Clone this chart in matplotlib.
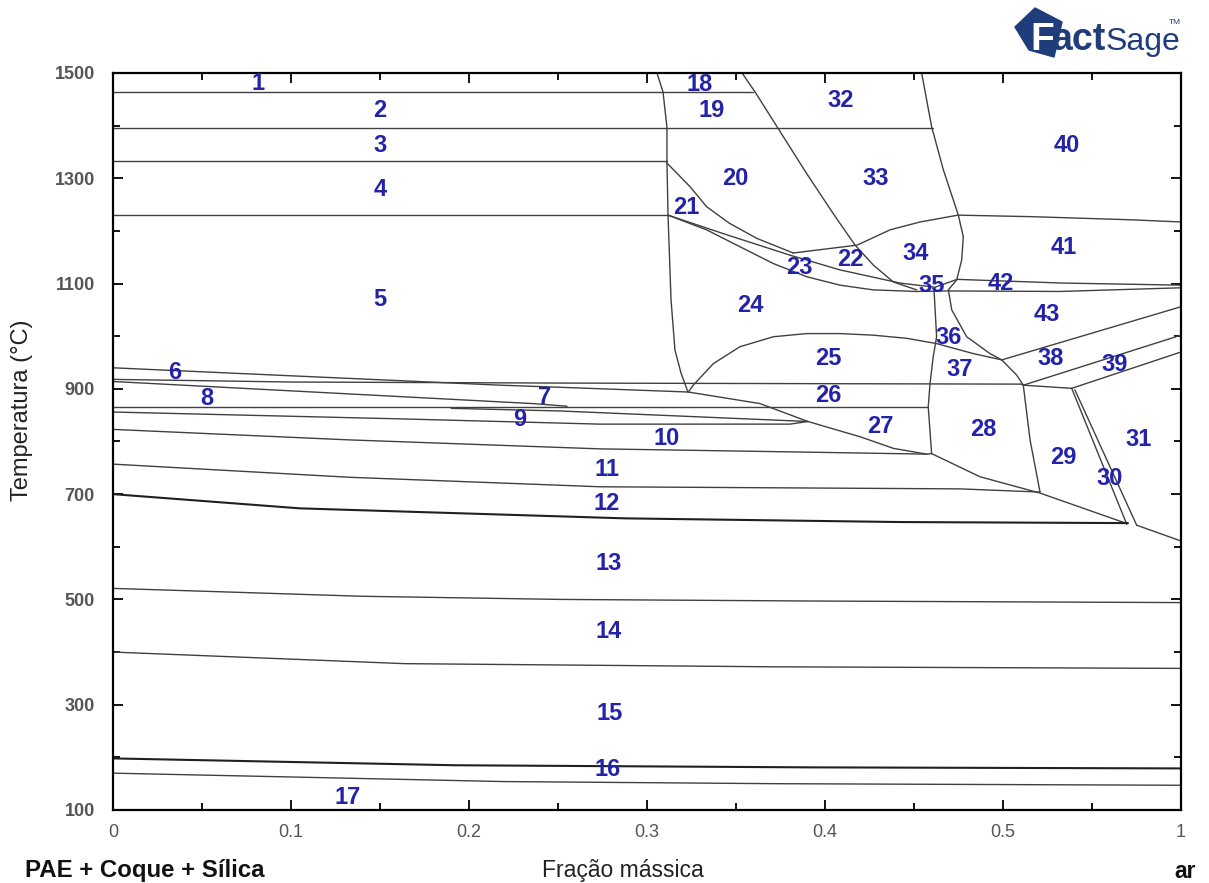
import matplotlib
matplotlib.use("Agg")
import matplotlib.pyplot as plt
from matplotlib import font_manager as fm
from matplotlib.patches import Polygon

# ---------------- phase boundaries (mass fraction, temperature degC) ----------------
iso_1464_x = [0.0, 0.3596]
iso_1464_y = [1464, 1464]
iso_1396_x = [0.0, 0.4607]
iso_1396_y = [1396, 1396]
iso_1333_x = [0.0, 0.3112]
iso_1333_y = [1333, 1333]
iso_1231_x = [0.0, 0.3118]
iso_1231_y = [1231, 1231]

left_wall_x = [0.3056, 0.3090, 0.3112, 0.3112, 0.3118, 0.3135, 0.3157, 0.3191, 0.3230]
left_wall_y = [1500, 1464, 1397, 1333, 1231, 1069, 974, 930, 894]

b20_21_x = [0.3112, 0.3242, 0.3335, 0.3461, 0.3616, 0.3822]
b20_21_y = [1329, 1284, 1246, 1215, 1186, 1158]

b21_23_x = [0.3118, 0.3427, 0.3803]
b21_23_y = [1230, 1195, 1154]

b24_top_x = [0.3118, 0.3335, 0.3522, 0.3710, 0.3897, 0.4084, 0.4271, 0.4515, 0.4691, 0.5320, 0.6000]
b24_top_y = [1230, 1202, 1170, 1138, 1113, 1097, 1088, 1085, 1086, 1085, 1092]

b22_23_x = [0.3803, 0.4084, 0.4421, 0.4618, 0.4742, 0.5330, 0.6000]
b22_23_y = [1154, 1126, 1101, 1093, 1108, 1101, 1097]

b34_41_x = [0.3820, 0.4180, 0.4365, 0.4534, 0.4747, 0.5169, 0.5730, 0.6000]
b34_41_y = [1158, 1173, 1202, 1217, 1230, 1227, 1221, 1217]

diag_x = [0.3534, 0.3607, 0.3736, 0.3897, 0.4046, 0.4169, 0.4272, 0.4384, 0.4515]
diag_y = [1500, 1464, 1395, 1309, 1233, 1173, 1135, 1103, 1088]

right_wall_x = [0.4543, 0.4599, 0.4665, 0.4749, 0.4777, 0.4768, 0.4740, 0.4693, 0.4712,
                0.4796, 0.4927, 0.4993, 0.5077, 0.5114]
right_wall_y = [1500, 1398, 1316, 1230, 1189, 1145, 1107, 1088, 1050,
                999, 967, 955, 926, 907]

mid_wall_x = [0.4612, 0.4627, 0.4608, 0.4590, 0.4580, 0.4599]
mid_wall_y = [1091, 999, 961, 910, 866, 777]

b25_top_x = [0.3232, 0.3260, 0.3373, 0.3522, 0.3710, 0.3897, 0.4084, 0.4271, 0.4459, 0.4627, 0.4833, 0.4993]
b25_top_y = [894, 907, 948, 980, 999, 1005, 1005, 1002, 996, 986, 967, 955]

b38_43_x = [0.4993, 0.6000]
b38_43_y = [955, 1056]
b38_39_x = [0.5114, 0.6000]
b38_39_y = [907, 1002]
b39_31_x = [0.5386, 0.6000]
b39_31_y = [901, 970]

iso_911_x = [0.0, 0.10, 0.25, 0.5101, 0.5114, 0.5386]
iso_911_y = [918, 913, 911, 909, 907, 901]

b6_x = [0.0, 0.2174, 0.2511, 0.3232]
b6_y = [940, 907, 903, 894]

b7_8_x = [0.0, 0.2360, 0.2551]
b7_8_y = [914, 872, 867]

iso_865_x = [0.0, 0.4580]
iso_865_y = [865, 865]

b9_top_x = [0.1900, 0.2511, 0.3904]
b9_top_y = [863, 858, 838]
b9_10_x = [0.0, 0.1612, 0.2736, 0.3803, 0.3904]
b9_10_y = [856, 843, 833, 833, 838]

b26_27_x = [0.3232, 0.3635, 0.3904, 0.4197, 0.4384, 0.4571, 0.4599]
b26_27_y = [894, 872, 838, 809, 787, 776, 777]

b10_11_x = [0.0, 0.1331, 0.2736, 0.3860, 0.4573]
b10_11_y = [823, 803, 786, 780, 776]

b28_low_x = [0.4599, 0.4871, 0.5208, 0.5697]
b28_low_y = [777, 733, 702, 644]

b28_29_x = [0.5114, 0.5152, 0.5208]
b28_29_y = [907, 803, 704]

b11_12_x = [0.0, 0.1331, 0.2736, 0.4758, 0.5208]
b11_12_y = [757, 732, 714, 710, 704]

b12_13_x = [0.0, 0.1050, 0.2876, 0.4421, 0.5702]
b12_13_y = [700, 673, 654, 647, 645]

b30_left_x = [0.5386, 0.5695]
b30_left_y = [901, 643]
b30_right_x = [0.5404, 0.5751]
b30_right_y = [898, 641]
b31_low_x = [0.5751, 0.6000]
b31_low_y = [641, 611]

b13_14_x = [0.0, 0.1399, 0.2517, 0.3910, 0.6000]
b13_14_y = [521, 506, 500, 497, 494]
b14_15_x = [0.0, 0.1640, 0.3713, 0.6000]
b14_15_y = [400, 378, 372, 369]
b15_16_x = [0.0, 0.1921, 0.3910, 0.6000]
b15_16_y = [198, 185, 181, 179]
b16_17_x = [0.0, 0.2197, 0.3713, 0.6000]
b16_17_y = [170, 154, 150, 147]

# ---------------- region numbers ----------------
region_ids = ["1", "2", "3", "4", "5", "6", "7", "8", "9", "10",
              "11", "12", "13", "14", "15", "16", "17", "18", "19", "20",
              "21", "22", "23", "24", "25", "26", "27", "28", "29", "30",
              "31", "32", "33", "34", "35", "36", "37", "38", "39", "40",
              "41", "42", "43"]
region_x = [0.0815, 0.150, 0.150, 0.150, 0.150, 0.0348, 0.2427, 0.0528, 0.2287, 0.3112,
            0.2775, 0.2775, 0.2787, 0.2787, 0.2792, 0.2781, 0.1320, 0.3298, 0.3365, 0.3494,
            0.3219, 0.4140, 0.3854, 0.3579, 0.4017, 0.4017, 0.4309, 0.4888, 0.5337, 0.5601,
            0.5764, 0.4090, 0.4287, 0.4511, 0.4601, 0.4697, 0.4758, 0.5270, 0.5629, 0.5360,
            0.5343, 0.4989, 0.5247]
region_y = [1481, 1428, 1363, 1278, 1069, 932, 884, 882, 841, 806,
            746, 683, 569, 440, 284, 177, 124, 1479, 1428, 1299,
            1245, 1145, 1130, 1059, 958, 888, 829, 822, 770, 729,
            803, 1447, 1299, 1158, 1097, 998, 936, 958, 947, 1363,
            1169, 1101, 1042]

x_ticks = [0.0, 0.1, 0.2, 0.3, 0.4, 0.5, 0.6]
x_tick_labels = ["0", "0.1", "0.2", "0.3", "0.4", "0.5", "1"]
y_ticks = [100, 300, 500, 700, 900, 1100, 1300, 1500]

thin_lines = [
    (iso_1464_x, iso_1464_y), (iso_1396_x, iso_1396_y), (iso_1333_x, iso_1333_y),
    (iso_1231_x, iso_1231_y), (left_wall_x, left_wall_y), (b20_21_x, b20_21_y),
    (b21_23_x, b21_23_y), (b24_top_x, b24_top_y), (b22_23_x, b22_23_y),
    (b34_41_x, b34_41_y), (diag_x, diag_y), (right_wall_x, right_wall_y),
    (mid_wall_x, mid_wall_y), (b25_top_x, b25_top_y), (b38_43_x, b38_43_y),
    (b38_39_x, b38_39_y), (b39_31_x, b39_31_y), (iso_911_x, iso_911_y),
    (b6_x, b6_y), (b7_8_x, b7_8_y), (iso_865_x, iso_865_y), (b9_top_x, b9_top_y),
    (b9_10_x, b9_10_y), (b26_27_x, b26_27_y), (b10_11_x, b10_11_y),
    (b28_low_x, b28_low_y), (b28_29_x, b28_29_y), (b11_12_x, b11_12_y),
    (b30_left_x, b30_left_y), (b30_right_x, b30_right_y), (b31_low_x, b31_low_y),
    (b13_14_x, b13_14_y), (b14_15_x, b14_15_y), (b16_17_x, b16_17_y),
]
heavy_lines = [(b12_13_x, b12_13_y), (b15_16_x, b15_16_y)]

# ---------------- figure ----------------
W, H = 1209, 883
fig = plt.figure(figsize=(W / 100, H / 100), dpi=100)
fig.patch.set_facecolor("white")
ax = fig.add_axes([113 / W, 1 - 810 / H, 1068 / W, 737 / H])

available = {f.name for f in fm.fontManager.ttflist}
base_font = "Liberation Sans" if "Liberation Sans" in available else "DejaVu Sans"
narrow_font = "Liberation Sans Narrow" if "Liberation Sans Narrow" in available else base_font

for xs, ys in thin_lines:
    ax.plot(xs, ys, color="#404040", lw=1.0, solid_capstyle="round", solid_joinstyle="round")
for xs, ys in heavy_lines:
    ax.plot(xs, ys, color="#202020", lw=1.5, solid_capstyle="round", solid_joinstyle="round")

for name, xv, yv in zip(region_ids, region_x, region_y):
    ax.text(xv, yv, name, color="#2323a8", fontsize=17, fontweight="bold",
            family=base_font, ha="center", va="center")

ax.set_xlim(0, 0.6)
ax.set_ylim(100, 1500)
ax.set_xticks(x_ticks)
ax.set_xticklabels(x_tick_labels)
ax.set_xticks([0.05, 0.15, 0.25, 0.35, 0.45, 0.55], minor=True)
ax.set_yticks(y_ticks)
ax.set_yticks([200, 400, 600, 800, 1000, 1200, 1400], minor=True)

ax.tick_params(which="both", direction="in", top=True, right=True, color="black", width=1.3)
ax.tick_params(which="major", length=7)
ax.tick_params(which="minor", length=5)
ax.tick_params(axis="y", which="major", labelsize=13, pad=13, labelcolor="#555555")
ax.tick_params(axis="x", which="major", labelsize=13, pad=10, labelcolor="#555555")
for lab in ax.get_yticklabels():
    lab.set_fontweight("bold")
    lab.set_family(base_font)
for lab in ax.get_xticklabels():
    lab.set_family(narrow_font)
for sp in ax.spines.values():
    sp.set_linewidth(1.6)
    sp.set_color("black")

# axis captions
fig.text(22 / W, 1 - 410 / H, "Temperatura (°C)", rotation=90, ha="center", va="center",
         fontsize=17, family=base_font, color="#222222")
fig.text(25 / W, 1 - 870 / H, "PAE + Coque + Sílica", ha="left", va="center",
         fontsize=17.3, fontweight="bold", family=base_font, color="#111111")
fig.text(623 / W, 1 - 870 / H, "Fração mássica", ha="center", va="center",
         fontsize=16.5, family=base_font, color="#222222")
fig.text(1185 / W, 1 - 871 / H, "ar", ha="center", va="center",
         fontsize=16.5, fontweight="bold", family=base_font, color="#111111")

# FactSage badge
navy = "#1f3d7a"
badge = Polygon([(1015 / W, 1 - 27 / H), (1035 / W, 1 - 8 / H), (1062 / W, 1 - 22 / H),
                 (1054 / W, 1 - 57 / H), (1029 / W, 1 - 50 / H)],
                closed=True, transform=fig.transFigure, facecolor=navy, edgecolor=navy)
fig.patches.append(badge)
fig.text(1030 / W, 1 - 50 / H, "F", ha="left", va="baseline", fontsize=28, fontweight="bold",
         family=base_font, color="white")
fig.text(1052 / W, 1 - 50 / H, "act", ha="left", va="baseline", fontsize=27, fontweight="bold",
         family=base_font, color=navy)
fig.text(1106 / W, 1 - 50 / H, "Sage", ha="left", va="baseline", fontsize=23,
         family=narrow_font, color=navy)
fig.text(1169 / W, 1 - 22 / H, "TM", ha="left", va="center", fontsize=6,
         family=base_font, color=navy)

fig.savefig("out.png", dpi=100, facecolor="white")
